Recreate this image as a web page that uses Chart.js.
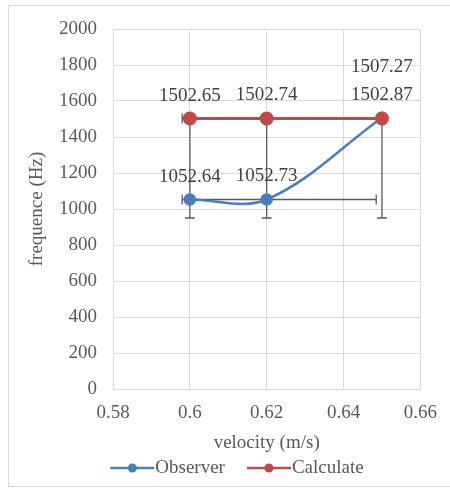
<!DOCTYPE html>
<html><head><meta charset="utf-8">
<script src="https://cdn.jsdelivr.net/npm/chart.js@4/dist/chart.umd.min.js"></script>
<style>
html,body{margin:0;padding:0;background:#fff;}
#wrap{position:relative;width:450px;height:497px;overflow:hidden;}
#frame{position:absolute;left:8px;top:5px;width:460px;height:482px;border:1px solid #d9d9d9;box-sizing:border-box;}
canvas{position:absolute;left:0;top:0;}
</style></head><body>
<div id="wrap"><div id="frame"></div><canvas id="c" width="450" height="497"></canvas></div>
<script>
// ---- data ----
const velocity = [0.6, 0.62, 0.65];
const observer = [1052.64, 1052.73, 1507.27];
const calculate = [1502.65, 1502.74, 1502.87];
const seriesNames = ['Observer', 'Calculate'];
const xMin = 0.58, xMax = 0.66, xStep = 0.02;
const yMin = 0, yMax = 2000, yStep = 200;
// vertical error bars (low / high ends) at each velocity
const errLow = [950, 950, 950];
const errHigh = [1490, 1490, 1490];
// horizontal error bars
const hErrY = [1052.64, 1502.65];
const hErrFrom = [0.598, 0.598];
const hErrTo = [0.6485, 0.6];

const FONT = '"Liberation Serif", "Times New Roman", serif';
const TXT = '#595959';
const BLUE = '#4a7ebb', RED = '#be4b48';

const errorBarPlugin = {
  id: 'errbars',
  beforeDatasetsDraw(chart) {
    const {ctx, scales: {x, y}} = chart;
    ctx.save();
    ctx.strokeStyle = '#5a5a5a';
    ctx.lineWidth = 1.3;
    const cap = 5;
    velocity.forEach((v, i) => {
      const px = x.getPixelForValue(v);
      const y1 = y.getPixelForValue(errLow[i]), y2 = y.getPixelForValue(errHigh[i]);
      ctx.beginPath();
      ctx.moveTo(px, y1); ctx.lineTo(px, y2);
      ctx.moveTo(px - cap, y1); ctx.lineTo(px + cap, y1);
      ctx.moveTo(px - cap, y2); ctx.lineTo(px + cap, y2);
      ctx.stroke();
    });
    hErrY.forEach((val, i) => {
      const py = y.getPixelForValue(val);
      const x1 = x.getPixelForValue(hErrFrom[i]), x2 = x.getPixelForValue(hErrTo[i]);
      ctx.beginPath();
      ctx.moveTo(x1, py); ctx.lineTo(x2, py);
      ctx.moveTo(x1, py - cap); ctx.lineTo(x1, py + cap);
      ctx.moveTo(x2, py - cap); ctx.lineTo(x2, py + cap);
      ctx.stroke();
    });
    ctx.restore();
  }
};

const labelPlugin = {
  id: 'vlabels',
  afterDatasetsDraw(chart) {
    const {ctx, scales: {x, y}} = chart;
    ctx.save();
    ctx.font = '19px ' + FONT;
    ctx.fillStyle = '#404040';
    ctx.textAlign = 'center';
    ctx.textBaseline = 'middle';
    const placed = [];
    const h = 18;
    const sets = [calculate, observer];
    sets.forEach(vals => {
      vals.forEach((v, i) => {
        const txt = v.toFixed(2);
        const w = ctx.measureText(txt).width;
        const px = x.getPixelForValue(velocity[i]);
        let cy = y.getPixelForValue(v) - 23;
        let moved = true;
        while (moved) {
          moved = false;
          for (const r of placed) {
            if (Math.abs(r.x - px) < (r.w + w) / 2 && Math.abs(r.y - cy) < h) {
              cy = r.y - 28; moved = true;
            }
          }
        }
        placed.push({x: px, y: cy, w});
        ctx.fillText(txt, px, cy);
      });
    });
    ctx.restore();
  }
};

const legendPlugin = {
  id: 'mylegend',
  afterDraw(chart) {
    const ctx = chart.ctx;
    ctx.save();
    ctx.font = '19px ' + FONT;
    ctx.textBaseline = 'middle';
    const colors = [BLUE, RED];
    const sample = 44, gap = 1, spacing = 22;
    const widths = seriesNames.map(n => ctx.measureText(n).width);
    const total = widths.reduce((a, b) => a + b, 0) + seriesNames.length * (sample + gap) + spacing;
    let cx = 237 - total / 2;
    const cy = 468;
    seriesNames.forEach((n, i) => {
      ctx.strokeStyle = colors[i];
      ctx.lineWidth = 2.5;
      ctx.beginPath(); ctx.moveTo(cx, cy); ctx.lineTo(cx + sample, cy); ctx.stroke();
      ctx.fillStyle = colors[i];
      ctx.beginPath(); ctx.arc(cx + sample / 2, cy, 4.5, 0, Math.PI * 2); ctx.fill();
      ctx.fillStyle = TXT;
      ctx.fillText(n, cx + sample + gap, cy);
      cx += sample + gap + widths[i] + spacing;
    });
    ctx.restore();
  }
};

const toXY = vals => vals.map((v, i) => ({x: velocity[i], y: v}));

new Chart(document.getElementById('c'), {
  type: 'scatter',
  data: {
    datasets: [
      {label: seriesNames[0], data: toXY(observer), showLine: true, tension: 0.35,
       borderColor: BLUE, backgroundColor: BLUE, borderWidth: 2.5, pointRadius: 5, order: 1},
      {label: seriesNames[1], data: toXY(calculate), showLine: true, tension: 0,
       borderColor: RED, backgroundColor: RED, borderWidth: 3, pointRadius: 5.5, order: 0}
    ]
  },
  options: {
    responsive: false,
    animation: false,
    devicePixelRatio: 1,
    layout: {padding: {top: 29, left: 0, right: 25, bottom: 0}},
    plugins: {legend: {display: false}, tooltip: {enabled: false}},
    scales: {
      x: {
        type: 'linear', min: xMin, max: xMax,
        afterFit: s => { s.height = 108; },
        ticks: {stepSize: xStep, padding: 13, color: TXT, font: {family: FONT, size: 19},
                callback: v => String(parseFloat(v.toFixed(2)))},
        grid: {color: '#d9d9d9', drawTicks: false},
        border: {color: '#d9d9d9'},
        title: {display: true, text: 'velocity (m/s)', color: TXT, font: {family: FONT, size: 19},
                padding: {top: 0, bottom: 42.6}}
      },
      y: {
        type: 'linear', min: yMin, max: yMax,
        afterFit: s => { s.width = 113; },
        ticks: {stepSize: yStep, padding: 16, color: TXT, font: {family: FONT, size: 19},
                callback: v => String(v)},
        grid: {color: '#d9d9d9', drawTicks: false},
        border: {color: '#d9d9d9'},
        title: {display: true, text: 'frequence (Hz)', color: TXT, font: {family: FONT, size: 19},
                padding: {top: 25.6, bottom: 0}}
      }
    }
  },
  plugins: [errorBarPlugin, labelPlugin, legendPlugin]
});
</script>
</body></html>
